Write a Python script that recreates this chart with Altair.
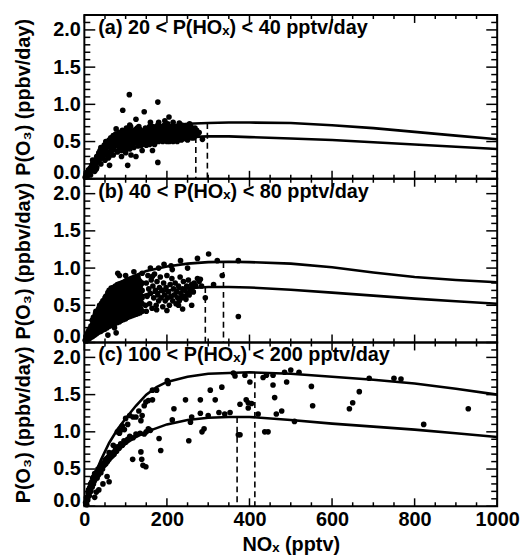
import altair as alt
import pandas as pd

FONT = "Liberation Sans"

# ---- axis tick values ----
X_MAJOR = [0, 200, 400, 600, 800, 1000]
X_MINOR = [50, 100, 150, 250, 300, 350, 450, 500, 550, 650, 700, 750, 850, 900, 950]
Y_MAJOR = [0.0, 0.5, 1.0, 1.5, 2.0]
Y_MINOR = [0.1, 0.2, 0.3, 0.4, 0.6, 0.7, 0.8, 0.9, 1.1, 1.2, 1.3, 1.4, 1.6, 1.7, 1.8, 1.9, 2.1]

LABELS = [
    "(a) 20 < P(HOₓ) < 40 pptv/day",
    "(b) 40 < P(HOₓ) < 80 pptv/day",
    "(c) 100 < P(HOₓ) < 200 pptv/day",
]

# ---- model curves (NOx, P(O3)) ----
CURVE_NOX_A = [0, 10, 25, 50, 75, 100, 150, 200, 250, 300, 350, 400, 500, 600, 700, 800, 900, 1000]
A_UPPER = [0, 0.1, 0.22, 0.38, 0.49, 0.57, 0.66, 0.71, 0.74, 0.75, 0.755, 0.755, 0.75, 0.72, 0.68, 0.63, 0.58, 0.53]
A_LOWER = [0, 0.08, 0.18, 0.3, 0.38, 0.44, 0.5, 0.54, 0.56, 0.57, 0.57, 0.56, 0.54, 0.52, 0.49, 0.46, 0.43, 0.40]

CURVE_NOX_B = [0, 10, 25, 50, 75, 100, 150, 200, 250, 300, 350, 400, 500, 600, 700, 800, 900, 1000]
B_UPPER = [0, 0.14, 0.36, 0.6, 0.74, 0.85, 0.96, 1.02, 1.06, 1.08, 1.085, 1.08, 1.06, 1.01, 0.94, 0.88, 0.84, 0.81]
B_LOWER = [0, 0.08, 0.2, 0.36, 0.47, 0.55, 0.65, 0.7, 0.73, 0.745, 0.745, 0.74, 0.71, 0.67, 0.63, 0.59, 0.555, 0.52]

CURVE_NOX_C = [0, 20, 40, 60, 80, 100, 125, 150, 175, 200, 250, 300, 350, 400, 500, 600, 700, 800, 900, 1000]
C_UPPER = [0, 0.35, 0.62, 0.85, 1.03, 1.18, 1.35, 1.5, 1.6, 1.67, 1.74, 1.78, 1.79, 1.8, 1.78, 1.74, 1.7, 1.65, 1.58, 1.5]
C_LOWER = [0, 0.3, 0.48, 0.62, 0.74, 0.84, 0.93, 1.0, 1.05, 1.1, 1.16, 1.19, 1.2, 1.2, 1.16, 1.11, 1.07, 1.03, 0.98, 0.93]

# ---- dashed markers (NOx, top) ----
A_DASH_NOX = [270, 298]
A_DASH_TOP = [0.56, 0.75]
B_DASH_NOX = [293, 337]
B_DASH_TOP = [0.745, 1.08]
C_DASH_NOX = [370, 413]
C_DASH_TOP = [1.2, 1.8]

# ---- observations ----
A_PTS = [
    (2, 0.02), (4, 0.05), (6, 0.03), (8, 0.08), (10, 0.1), (12, 0.06), (14, 0.14), (15, 0.1), (18, 0.18), (20, 0.12),
    (22, 0.22), (24, 0.16), (26, 0.25), (28, 0.2), (30, 0.3), (32, 0.24), (34, 0.32), (36, 0.28), (38, 0.38), (40, 0.3),
    (42, 0.36), (44, 0.42), (46, 0.33), (48, 0.45), (50, 0.38), (52, 0.5), (54, 0.42), (56, 0.48), (58, 0.36), (60, 0.52),
    (62, 0.45), (64, 0.55), (66, 0.4), (68, 0.5), (70, 0.58), (72, 0.46), (74, 0.53), (76, 0.6), (78, 0.44), (80, 0.55),
    (82, 0.5), (84, 0.62), (86, 0.42), (88, 0.58), (90, 0.52), (92, 0.65), (94, 0.47), (96, 0.56), (98, 0.6), (100, 0.5),
    (102, 0.68), (104, 0.55), (106, 0.62), (108, 0.45), (110, 0.58), (112, 0.7), (114, 0.52), (116, 0.64), (118, 0.6),
    (120, 0.48), (122, 0.56), (124, 0.66), (126, 0.5), (128, 0.62), (130, 0.58), (132, 0.7), (134, 0.54), (136, 0.6),
    (138, 0.45), (140, 0.52), (142, 0.64), (144, 0.58), (146, 0.5), (148, 0.68), (150, 0.55), (152, 0.62), (154, 0.5),
    (156, 0.6), (158, 0.46), (160, 0.57), (162, 0.65), (164, 0.52), (166, 0.7), (168, 0.6), (170, 0.55), (172, 0.66),
    (174, 0.5), (176, 0.62), (178, 0.72), (180, 0.58), (182, 0.64), (184, 0.52), (186, 0.7), (188, 0.6), (190, 0.66),
    (192, 0.55), (194, 0.72), (196, 0.62), (198, 0.68), (200, 0.58), (202, 0.74), (204, 0.64), (206, 0.5), (208, 0.6),
    (210, 0.7), (212, 0.62), (214, 0.56), (216, 0.68), (218, 0.6), (220, 0.66), (222, 0.52), (224, 0.7), (226, 0.58),
    (228, 0.64), (230, 0.55), (232, 0.68), (234, 0.6), (236, 0.72), (238, 0.56), (240, 0.64), (242, 0.6), (244, 0.68),
    (246, 0.54), (248, 0.62), (250, 0.66), (252, 0.58), (254, 0.7), (256, 0.6), (258, 0.65), (260, 0.55), (262, 0.62),
    (266, 0.6), (270, 0.58), (274, 0.6), (286, 0.53),
    (5, 0.08), (10, 0.05), (16, 0.15), (20, 0.25), (25, 0.18), (30, 0.22), (35, 0.35), (40, 0.42), (45, 0.28), (50, 0.46),
    (55, 0.35), (60, 0.44), (65, 0.5), (70, 0.4), (75, 0.52), (80, 0.48), (85, 0.56), (90, 0.44), (95, 0.6), (100, 0.62),
    (105, 0.5), (110, 0.65), (115, 0.56), (120, 0.62), (125, 0.58), (130, 0.64), (135, 0.66), (140, 0.6), (145, 0.55),
    (150, 0.66), (155, 0.58), (160, 0.62), (165, 0.56), (170, 0.62), (175, 0.7), (180, 0.66), (185, 0.6), (190, 0.58),
    (195, 0.65), (200, 0.68), (205, 0.62), (210, 0.58), (215, 0.64), (220, 0.7), (225, 0.62), (230, 0.66), (235, 0.58),
    (240, 0.7), (245, 0.64), (250, 0.6), (255, 0.58),
    (10, 0.12), (15, 0.05), (20, 0.2), (25, 0.1), (30, 0.15), (35, 0.25), (40, 0.2), (45, 0.35), (50, 0.25), (55, 0.45),
    (60, 0.3), (65, 0.38), (70, 0.32), (75, 0.45), (80, 0.36), (85, 0.48), (90, 0.38), (95, 0.52), (100, 0.4),
    (105, 0.45), (110, 0.4), (115, 0.46), (120, 0.42), (125, 0.52), (130, 0.44), (135, 0.5), (140, 0.46), (145, 0.62),
    (150, 0.45), (155, 0.52), (160, 0.48), (165, 0.62), (170, 0.46), (175, 0.55), (180, 0.5), (185, 0.66), (190, 0.5),
    (195, 0.56), (200, 0.5), (205, 0.55), (210, 0.52), (215, 0.5), (220, 0.56), (225, 0.5), (230, 0.6), (235, 0.52),
    (240, 0.54), (245, 0.58), (250, 0.52), (255, 0.66), (260, 0.62), (265, 0.55), (268, 0.68), (272, 0.65), (278, 0.62),
    (58, 0.28), (68, 0.42), (88, 0.5), (98, 0.44), (118, 0.5), (128, 0.68), (138, 0.58), (148, 0.62), (158, 0.7),
    (168, 0.64), (188, 0.56), (198, 0.62), (208, 0.66), (218, 0.54), (228, 0.6), (238, 0.66), (248, 0.7), (258, 0.7),
    (109, 1.13), (178, 1.03), (93, 0.92), (145, 0.9), (125, 0.8), (205, 0.83), (77, 0.67), (61, 0.18), (125, 0.3),
    (105, 0.18), (178, 0.22), (165, 0.38), (29, 0.13), (90, 0.3), (140, 0.38), (100, 0.35), (195, 0.78), (230, 0.75),
    (255, 0.74), (160, 0.76), (110, 0.72), (180, 0.76), (215, 0.76), (113, 0.32),
]

B_PTS = [
    (8, 0.04), (8, 0.1), (12, 0.05), (12, 0.12), (12, 0.18), (16, 0.07), (16, 0.14), (16, 0.22),
    (20, 0.08), (20, 0.16), (20, 0.24), (20, 0.3), (25, 0.1), (25, 0.18), (25, 0.27), (25, 0.35),
    (30, 0.12), (30, 0.2), (30, 0.28), (30, 0.36), (30, 0.42), (35, 0.14), (35, 0.22), (35, 0.3), (35, 0.38), (35, 0.46),
    (40, 0.15), (40, 0.24), (40, 0.32), (40, 0.4), (40, 0.5), (45, 0.17), (45, 0.26), (45, 0.34), (45, 0.42), (45, 0.5),
    (45, 0.56), (50, 0.18), (50, 0.27), (50, 0.36), (50, 0.44), (50, 0.52), (50, 0.6), (55, 0.2), (55, 0.28), (55, 0.37),
    (55, 0.46), (55, 0.55), (55, 0.63), (60, 0.22), (60, 0.3), (60, 0.38), (60, 0.47), (60, 0.56), (60, 0.65), (60, 0.7),
    (65, 0.23), (65, 0.32), (65, 0.4), (65, 0.48), (65, 0.57), (65, 0.66), (65, 0.73), (70, 0.25), (70, 0.33), (70, 0.42),
    (70, 0.5), (70, 0.58), (70, 0.67), (70, 0.74), (75, 0.26), (75, 0.34), (75, 0.43), (75, 0.52), (75, 0.6), (75, 0.68),
    (75, 0.76), (80, 0.27), (80, 0.36), (80, 0.44), (80, 0.53), (80, 0.62), (80, 0.7), (80, 0.78), (85, 0.28), (85, 0.37),
    (85, 0.46), (85, 0.54), (85, 0.63), (85, 0.71), (85, 0.79), (90, 0.3), (90, 0.38), (90, 0.47), (90, 0.56), (90, 0.64),
    (90, 0.72), (90, 0.8), (95, 0.31), (95, 0.4), (95, 0.48), (95, 0.57), (95, 0.65), (95, 0.73), (95, 0.81),
    (100, 0.32), (100, 0.41), (100, 0.5), (100, 0.58), (100, 0.66), (100, 0.74), (100, 0.82), (105, 0.34), (105, 0.42),
    (105, 0.5), (105, 0.59), (105, 0.67), (105, 0.75), (105, 0.83), (110, 0.35), (110, 0.44), (110, 0.52), (110, 0.6),
    (110, 0.68), (110, 0.76), (110, 0.84), (115, 0.36), (115, 0.45), (115, 0.53), (115, 0.61), (115, 0.69), (115, 0.77),
    (115, 0.85), (120, 0.37), (120, 0.46), (120, 0.54), (120, 0.62), (120, 0.7), (120, 0.78), (120, 0.86), (125, 0.38),
    (125, 0.47), (125, 0.55), (125, 0.63), (125, 0.71), (125, 0.79), (125, 0.87), (130, 0.39), (130, 0.48), (130, 0.56),
    (130, 0.64), (130, 0.72), (130, 0.8), (130, 0.88), (135, 0.4), (135, 0.5), (135, 0.58), (135, 0.66), (135, 0.74),
    (135, 0.82), (140, 0.42), (140, 0.52), (140, 0.6), (140, 0.7), (140, 0.8),
    (22, 0.12), (22, 0.2), (22, 0.28), (27, 0.14), (27, 0.22), (27, 0.31), (27, 0.39), (32, 0.16), (32, 0.24), (32, 0.32),
    (32, 0.4), (37, 0.19), (37, 0.28), (37, 0.36), (37, 0.44), (37, 0.5), (42, 0.2), (42, 0.28), (42, 0.36), (42, 0.45),
    (42, 0.53), (47, 0.22), (47, 0.31), (47, 0.39), (47, 0.48), (47, 0.56), (52, 0.23), (52, 0.32), (52, 0.4), (52, 0.49),
    (52, 0.57), (52, 0.62), (57, 0.24), (57, 0.33), (57, 0.42), (57, 0.5), (57, 0.6), (57, 0.67), (62, 0.26), (62, 0.35),
    (62, 0.43), (62, 0.52), (62, 0.6), (62, 0.68), (67, 0.28), (67, 0.36), (67, 0.45), (67, 0.54), (67, 0.62), (67, 0.7),
    (72, 0.3), (72, 0.38), (72, 0.47), (72, 0.55), (72, 0.64), (72, 0.72), (77, 0.31), (77, 0.4), (77, 0.48), (77, 0.57),
    (77, 0.65), (77, 0.73), (82, 0.32), (82, 0.41), (82, 0.5), (82, 0.58), (82, 0.66), (82, 0.74), (87, 0.33), (87, 0.42),
    (87, 0.5), (87, 0.6), (87, 0.68), (87, 0.76), (92, 0.34), (92, 0.43), (92, 0.52), (92, 0.6), (92, 0.68), (92, 0.77),
    (97, 0.36), (97, 0.45), (97, 0.54), (97, 0.62), (97, 0.7), (97, 0.78), (102, 0.37), (102, 0.46), (102, 0.55),
    (102, 0.63), (102, 0.71), (102, 0.79), (107, 0.38), (107, 0.47), (107, 0.56), (107, 0.64), (107, 0.72), (107, 0.8),
    (112, 0.4), (112, 0.48), (112, 0.56), (112, 0.64), (112, 0.72), (112, 0.8), (117, 0.41), (117, 0.5), (117, 0.58),
    (117, 0.66), (117, 0.74), (117, 0.82), (122, 0.42), (122, 0.5), (122, 0.58), (122, 0.66), (122, 0.74), (122, 0.82),
    (127, 0.43), (127, 0.52), (127, 0.6), (127, 0.68), (127, 0.76), (127, 0.84), (132, 0.44), (132, 0.52), (132, 0.6),
    (132, 0.68), (132, 0.76), (132, 0.84), (137, 0.45), (137, 0.54), (137, 0.62), (137, 0.7), (137, 0.78),
    (2, 0.03), (4, 0.08), (5, 0.02), (7, 0.12), (10, 0.15), (14, 0.12), (17, 0.15), (19, 0.3), (22, 0.34), (28, 0.42),
    (148, 0.5), (150, 0.8), (152, 0.62), (154, 0.9), (156, 0.72), (158, 0.52), (160, 0.66), (162, 0.84), (164, 0.46),
    (166, 0.76), (168, 0.6), (170, 0.92), (172, 0.7), (174, 0.5), (176, 0.82), (178, 0.64), (180, 0.56), (182, 0.74),
    (184, 0.88), (186, 0.6), (188, 0.7), (190, 0.48), (192, 0.8), (194, 0.64), (196, 0.56), (198, 0.74), (200, 0.9),
    (202, 0.6), (204, 0.68), (206, 0.5), (208, 0.78), (210, 0.62), (212, 0.86), (214, 0.56), (216, 0.72), (218, 0.64),
    (220, 0.8), (222, 0.52), (224, 0.68), (226, 0.6), (228, 0.76), (230, 0.56), (232, 0.88), (234, 0.66), (236, 0.6),
    (238, 0.72), (240, 0.82), (242, 0.62), (244, 0.7), (246, 0.58), (248, 0.76), (250, 0.66), (252, 0.84), (254, 0.64),
    (256, 0.72), (258, 0.7), (260, 0.78), (262, 0.74), (264, 0.68), (266, 0.8), (270, 0.76), (274, 0.86), (278, 0.82),
    (281, 0.85), (284, 0.76),
    (77, 0.13), (73, 0.2), (57, 0.1), (84, 0.32), (373, 0.35), (301, 1.19), (274, 1.13), (322, 1.1), (373, 1.1),
    (233, 1.1), (334, 0.9), (293, 0.6), (313, 0.78), (193, 1.05), (213, 0.98), (81, 0.93), (85, 0.9), (165, 0.89),
    (250, 1.0), (120, 0.95), (140, 0.93), (160, 1.0), (180, 1.0), (210, 1.03), (100, 0.9), (150, 0.42),
    (200, 0.43), (175, 0.44), (238, 0.45), (260, 0.5), (228, 0.5),
]

C_PTS = [
    (3, 0.05), (5, 0.12), (6, 0.02), (8, 0.08), (9, 0.18), (10, 0.22), (12, 0.14), (13, 0.25), (15, 0.3), (16, 0.2),
    (18, 0.33), (19, 0.26), (20, 0.38), (22, 0.3), (23, 0.4), (24, 0.34), (25, 0.44), (26, 0.36), (28, 0.42), (29, 0.19),
    (30, 0.46), (31, 0.38), (33, 0.5), (34, 0.42), (36, 0.48), (38, 0.53), (40, 0.45), (42, 0.56), (44, 0.5), (46, 0.58),
    (48, 0.55), (50, 0.62), (52, 0.57), (54, 0.64), (55, 0.4), (56, 0.6), (58, 0.66), (60, 0.63), (62, 0.68), (64, 0.66),
    (66, 0.7), (68, 0.68), (70, 0.72), (72, 0.7), (75, 0.76), (78, 0.74), (80, 0.8), (84, 0.78), (88, 0.84), (92, 0.82),
    (96, 0.88), (100, 0.86), (105, 0.9), (110, 0.94), (118, 0.92), (125, 0.97), (135, 0.98), (145, 0.97), (150, 1.0),
    (155, 1.04), (160, 1.02),
    (60, 0.72), (70, 0.82), (80, 1.0), (85, 0.98), (88, 1.02), (92, 1.08), (97, 1.03), (100, 1.18), (105, 1.1),
    (110, 1.22), (118, 1.2), (125, 1.2), (132, 1.28), (137, 1.15), (140, 1.22), (145, 1.35), (149, 1.4), (155, 1.42),
    (165, 1.43), (165, 1.56), (175, 1.56), (201, 1.69), (203, 1.65),
    (117, 0.63), (139, 0.63), (142, 0.55), (149, 0.53), (137, 0.73), (181, 0.91), (185, 0.75), (60, 0.33), (45, 0.3),
    (35, 0.22), (25, 0.12),
    (213, 1.16), (217, 1.31), (245, 1.43), (253, 0.88), (257, 1.13), (281, 1.43), (281, 1.25), (285, 1.0), (290, 1.04),
    (305, 1.56), (317, 1.43), (326, 1.26), (333, 1.6), (353, 1.26), (361, 1.79), (365, 1.75), (377, 1.37), (373, 0.96),
    (377, 0.96), (389, 1.76), (392, 1.43), (397, 1.39), (401, 1.67), (397, 1.32), (405, 1.38), (421, 1.24), (433, 1.73),
    (437, 1.0), (441, 1.76), (445, 1.0), (457, 1.76), (457, 1.63), (461, 1.46), (465, 1.24), (478, 1.28), (490, 1.67),
    (509, 1.14), (520, 1.8), (550, 1.61), (553, 1.35), (642, 1.31), (650, 1.39), (666, 1.54), (690, 1.72), (750, 1.72),
    (767, 1.71), (822, 1.1), (930, 1.31), (300, 1.22), (340, 1.24), (260, 1.2), (485, 1.8), (500, 1.83),
]

W, H = 416, 165
Y_DOMAIN = [0, 2.2]
X_DOMAIN = [0, 1000]
FS = 20


def y_axis():
    return alt.Axis(
        values=Y_MAJOR, format=".1f", ticks=False, tickSize=0, domain=False, grid=False,
        labelFont=FONT, labelFontSize=FS, labelFontWeight="bold", labelColor="black", labelPadding=4,
        labelBaseline={"condition": {"test": "datum.value == 0", "value": "alphabetic"}, "value": "middle"},
        title="P(O₃) (ppbv/day)", titleFont=FONT, titleFontSize=FS, titleFontWeight="bold",
        titleColor="black", titlePadding=19,
    )


def x_enc(show):
    if show:
        ax = alt.Axis(
            values=X_MAJOR, format="d", ticks=False, tickSize=0, domain=False, grid=False,
            labelFont=FONT, labelFontSize=FS, labelFontWeight="bold", labelColor="black",
            labelPadding=3, labelFlush=False,
            title="NOₓ (pptv)", titleFont=FONT, titleFontSize=FS, titleFontWeight="bold",
            titleColor="black", titlePadding=6,
        )
    else:
        ax = None
    return alt.X("nox:Q", scale=alt.Scale(domain=X_DOMAIN, nice=False, zero=False), axis=ax)


def y_enc():
    return alt.Y("p:Q", scale=alt.Scale(domain=Y_DOMAIN, nice=False, zero=False), axis=y_axis())


def panel(label, pts, cnox, upper, lower, dnox, dtop, show_x):
    pts_df = pd.DataFrame(pts, columns=["nox", "p"])
    curve_df = pd.concat([
        pd.DataFrame({"nox": cnox, "p": upper, "curve": "upper"}),
        pd.DataFrame({"nox": cnox, "p": lower, "curve": "lower"}),
    ])
    dash_df = pd.DataFrame({"nox": dnox, "p": dtop, "p0": [0.0] * len(dnox)})
    xmaj = pd.DataFrame({"nox": X_MAJOR})
    xmin = pd.DataFrame({"nox": X_MINOR})
    ymaj = pd.DataFrame({"p": Y_MAJOR})
    ymin = pd.DataFrame({"p": Y_MINOR})
    lab_df = pd.DataFrame({"label": [label]})

    xe = x_enc(show_x)
    ye = y_enc()

    dots = alt.Chart(pts_df).mark_circle(size=32, color="black", opacity=1).encode(x=xe, y=ye)
    lines = alt.Chart(curve_df).mark_line(color="black", strokeWidth=2.6).encode(
        x=xe, y=ye, detail="curve:N", order="nox:Q")
    dashes = alt.Chart(dash_df).mark_rule(color="black", strokeWidth=1.6, strokeDash=[6, 4]).encode(
        x=xe, y=ye, y2="p0:Q")

    def xticks(df, ln):
        top = alt.Chart(df).mark_rule(color="black", strokeWidth=1.5).encode(
            x=xe, y=alt.value(0), y2=alt.value(ln))
        bot = alt.Chart(df).mark_rule(color="black", strokeWidth=1.5).encode(
            x=xe, y=alt.value(H), y2=alt.value(H - ln))
        return [top, bot]

    def yticks(df, ln):
        left = alt.Chart(df).mark_rule(color="black", strokeWidth=1.5).encode(
            y=ye, x=alt.value(0), x2=alt.value(ln))
        right = alt.Chart(df).mark_rule(color="black", strokeWidth=1.5).encode(
            y=ye, x=alt.value(W), x2=alt.value(W - ln))
        return [left, right]

    text = alt.Chart(lab_df).mark_text(
        align="left", baseline="top", font=FONT, fontSize=FS, fontWeight="bold", color="black"
    ).encode(x=alt.value(14), y=alt.value(3), text="label:N")

    layers = xticks(xmaj, 8) + xticks(xmin, 4) + yticks(ymaj, 11) + yticks(ymin, 6)
    return alt.layer(dots, lines, dashes, *layers, text).properties(width=W, height=H)


pa = panel(LABELS[0], A_PTS, CURVE_NOX_A, A_UPPER, A_LOWER, A_DASH_NOX, A_DASH_TOP, False)
pb = panel(LABELS[1], B_PTS, CURVE_NOX_B, B_UPPER, B_LOWER, B_DASH_NOX, B_DASH_TOP, False)
pc = panel(LABELS[2], C_PTS, CURVE_NOX_C, C_UPPER, C_LOWER, C_DASH_NOX, C_DASH_TOP, True)

chart = alt.vconcat(pa, pb, pc, spacing=0, bounds="flush").properties(
    padding={"left": 13, "top": 11, "right": 0, "bottom": 0},
    background="white",
).configure_view(stroke="black", strokeWidth=2)

chart.save("out.html", embed_options={"renderer": "svg", "actions": False})
